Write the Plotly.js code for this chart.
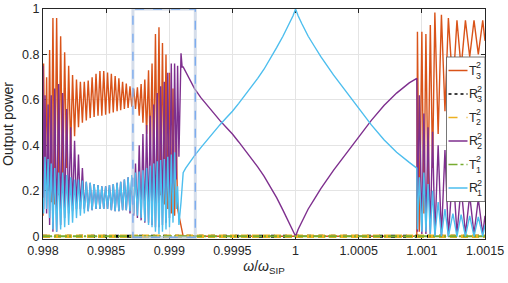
<!DOCTYPE html>
<html><head><meta charset="utf-8">
<script src="https://cdn.plot.ly/plotly-3.0.1.min.js"></script>
<style>html,body{margin:0;padding:0;background:#fff;} #chart{width:508px;height:283px;}</style>
</head><body><div id="chart"></div>
<script>
// ---- data ----
const xLeft = [0.998000,0.9980048,0.9980159,0.9980286,0.9980405,0.9980524,0.9980651,0.9980786,0.9980929,0.9981079,
0.9981238,0.9981397,0.9981556,0.9981714,0.9981873,0.9982032,0.9982190,0.9982341,0.9982500,0.9982651,
0.9982810,0.9982960,0.9983119,0.9983270,0.9983429,0.9983579,0.9983738,0.9983889,0.9984048,0.9984198,
0.9984357,0.9984508,0.9984659,0.9984810,0.9984960,0.9985111,0.9985262,0.9985413,0.9985563,0.9985714,
0.9985865,0.9986008,0.9986151,0.9986302,0.9986444,0.9986595,0.9986738,0.9986889,0.9987032,0.9987183,
0.9987325,0.9987476,0.9987619,0.9987770,0.9987913,0.9988063,0.9988206,0.9988357,0.9988492,0.9988635,
0.9988770,0.9988905,0.9989048,0.9989183,0.9989317,0.9989460,0.9989603,0.9989738,0.9989881,0.9990016,
0.9990159,0.9990294,0.9990421,0.9990556,0.9990659,0.9990762,0.9990929,0.9991016];
const t3Left = [0.09,0.76,0.25,0.70,0.20,0.82,0.15,0.96,0.14,0.96,
0.18,0.88,0.22,0.81,0.30,0.75,0.38,0.71,0.44,0.69,
0.48,0.68,0.50,0.68,0.51,0.685,0.52,0.70,0.525,0.715,
0.53,0.727,0.53,0.727,0.535,0.72,0.54,0.715,0.545,0.705,
0.55,0.695,0.555,0.68,0.56,0.672,0.565,0.66,0.57,0.65,
0.56,0.655,0.53,0.67,0.50,0.69,0.45,0.73,0.38,0.76,
0.32,0.89,0.26,0.92,0.18,0.85,0.14,0.80,0.12,0.72,
0.10,0.65,0.09,0.42,0.12,0.09,0.05,0.03];
const r2Left = [0.75,0.12,0.62,0.10,0.58,0.05,0.62,0.02,0.65,0.02,
0.67,0.05,0.63,0.08,0.56,0.10,0.48,0.11,0.42,0.12,
0.36,0.12,0.30,0.12,0.24,0.11,0.235,0.115,0.23,0.12,
0.225,0.12,0.22,0.12,0.22,0.12,0.225,0.115,0.23,0.11,
0.235,0.11,0.24,0.115,0.25,0.115,0.26,0.10,0.26,0.09,
0.32,0.08,0.40,0.07,0.45,0.06,0.49,0.06,0.53,0.05,
0.58,0.04,0.63,0.04,0.66,0.05,0.68,0.06,0.72,0.08,
0.76,0.10,0.76,0.25,0.75,0.35,0.805,0.745];
const r1Left = [0.17,0.10,0.35,0.12,0.34,0.08,0.32,0.03,0.30,0.02,
0.28,0.03,0.28,0.04,0.27,0.05,0.26,0.06,0.25,0.08,
0.25,0.09,0.245,0.10,0.24,0.11,0.235,0.115,0.23,0.12,
0.225,0.12,0.22,0.12,0.22,0.12,0.225,0.115,0.23,0.11,
0.235,0.11,0.24,0.115,0.25,0.115,0.26,0.11,0.27,0.10,
0.28,0.09,0.285,0.08,0.29,0.065,0.30,0.05,0.31,0.04,
0.32,0.02,0.33,0.01,0.335,0.02,0.34,0.03,0.35,0.04,
0.36,0.06,0.37,0.12,0.22,0.05,0.15,0.25];

const xMid = [0.99911,0.99913,0.99916,0.9992,0.99925,0.9993,0.99935,0.9994,0.99945,0.9995,
0.99955,0.9996,0.99965,0.9997,0.99975,0.9998,0.99985,0.9999,0.99995,0.99998,
1.0,1.00002,1.00005,1.0001,1.00015,1.0002,1.0003,1.0004,1.0005,1.0006,
1.0007,1.0008,1.0009,1.00096];
const t3Mid = [0,0,0,0,0,0,0,0,0,0, 0,0,0,0,0,0,0,0,0,0, 0,0,0,0,0,0,0,0,0,0, 0,0,0,0];
const r2Mid = [0.745,0.725,0.695,0.65,0.61,0.575,0.54,0.51,0.48,0.45,
0.415,0.38,0.345,0.305,0.265,0.22,0.17,0.115,0.06,0.025,
0,0.03,0.065,0.12,0.165,0.21,0.29,0.365,0.44,0.51,
0.575,0.63,0.675,0.695];
const r1Mid = [0.28,0.30,0.325,0.355,0.39,0.425,0.455,0.49,0.52,0.55,
0.585,0.62,0.655,0.695,0.735,0.78,0.83,0.88,0.935,0.97,
1.0,0.97,0.935,0.88,0.835,0.79,0.71,0.635,0.56,0.49,
0.425,0.37,0.325,0.30];

const xRight = [1.000965,1.00098,1.001,1.001016,1.001032,1.001049,1.001067,1.001085,1.001103,1.001129,
1.001155,1.001183,1.00121,1.001246,1.001278,1.001311,1.001345,1.001379,1.001413,1.001447,
1.001482,1.0015];
const t3Right = [0.90,0.02,0.90,0.10,0.89,0.20,0.93,0.30,0.985,0.45,
0.975,0.55,0.96,0.65,0.95,0.74,0.95,0.79,0.95,0.80,
0.95,0.86];
const r2Right = [0.02,0.62,0.01,0.54,0.01,0.48,0.01,0.46,0.0,0.40,
0.0,0.38,0.0,0.30,0.01,0.22,0.01,0.18,0.01,0.165,
0.01,0.09];
const r1Right = [0.03,0.26,0.02,0.28,0.02,0.23,0.01,0.20,0.0,0.15,
0.0,0.12,0.0,0.10,0.0,0.095,0.0,0.09,0.0,0.085,
0.0,0.05];

const xZero = [0.998, 1.0015];
const r3Zero = [0, 0];
const t2Zero = [0, 0];
const t1Zero = [0, 0];

const xTickVals = [0.998, 0.9985, 0.999, 0.9995, 1, 1.0005, 1.001, 1.0015];
const xTickText = ['0.998', '0.9985', '0.999', '0.9995', '1', '1.0005', '1.001', '1.0015'];
const yTickVals = [0, 0.2, 0.4, 0.6, 0.8, 1];
const yTickText = ['0', '0.2', '0.4', '0.6', '0.8', '1'];

const seriesNames = [['T','2','3'], ['R','2','3'], ['T','2','2'], ['R','2','2'], ['T','2','1'], ['R','2','1']];
const zoomBox = [0.998712, 0.999206, -0.005, 1.0];

// ---- styles ----
const C = {T3:'#D95319', R3:'#000000', T2:'#EDB120', R2:'#7E2F8E', T1:'#77AC30', R1:'#4DBEEE'};
const styles = [
  {color:C.T3, width:1.4, dash:'solid'},
  {color:C.R3, width:3, dash:'4px,8px'},
  {color:C.T2, width:3.4, dash:'7px,4px'},
  {color:C.R2, width:1.4, dash:'solid'},
  {color:C.T1, width:1.8, dash:'9px,2px,2px,2px'},
  {color:C.R1, width:1.4, dash:'solid'}
];
const legendDash = ['solid', 'dot', 'dash', 'solid', 'dashdot', 'solid'];

const xAll = xLeft.concat(xMid, xRight);
const traces = [
  {x:xAll, y:t3Left.concat(t3Mid, t3Right), mode:'lines', line:styles[0], hoverinfo:'skip'},
  {x:xZero, y:r3Zero, mode:'lines', line:styles[1], hoverinfo:'skip'},
  {x:xZero, y:t2Zero, mode:'lines', line:styles[2], hoverinfo:'skip'},
  {x:xAll, y:r2Left.concat(r2Mid, r2Right), mode:'lines', line:styles[3], hoverinfo:'skip'},
  {x:xZero, y:t1Zero, mode:'lines', line:styles[4], hoverinfo:'skip'},
  {x:xAll, y:r1Left.concat(r1Mid, r1Right), mode:'lines', line:styles[5], hoverinfo:'skip'}
];

// plot area geometry in pixels
const L = 43, R = 23, T = 9, B = 44, W = 508, H = 283;
const PW = W - L - R, PH = H - T - B;
const px2x = p => (p - L) / PW;
const py2y = p => 1 - (p - T) / PH;

const shapes = [
  {type:'rect', xref:'x', yref:'y', x0:zoomBox[0], x1:zoomBox[1], y0:zoomBox[2], y1:zoomBox[3],
   line:{color:'rgba(185,198,220,0.6)', width:3}, layer:'above'},
  {type:'rect', xref:'x', yref:'y', x0:zoomBox[0], x1:zoomBox[1], y0:zoomBox[2], y1:zoomBox[3],
   line:{color:'rgba(110,165,240,0.85)', width:1.4, dash:'dash'}, layer:'above'},
  {type:'rect', xref:'paper', yref:'paper', x0:px2x(446.5), x1:px2x(485), y0:py2y(201.5), y1:py2y(57),
   fillcolor:'#ffffff', line:{color:'#555', width:0.8}, layer:'above'}
];
const annotations = [];
const rowY = [70.5, 94, 117.5, 141, 164.5, 188];
rowY.forEach((yc, i) => {
  shapes.push({type:'line', xref:'paper', yref:'paper', x0:px2x(448.5), x1:px2x(467.5), y0:py2y(yc), y1:py2y(yc),
    line:{color:styles[i].color, width:1.5, dash:legendDash[i]}, layer:'above'});
  const n = seriesNames[i];
  const lw = n[0] === 'T' ? 7.0 : 8.2;
  annotations.push({xref:'paper', yref:'paper', x:px2x(467.8), y:py2y(yc), text:n[0], showarrow:false,
    xanchor:'left', yanchor:'middle', font:{size:12.5, color:'#262626'}, borderpad:0});
  annotations.push({xref:'paper', yref:'paper', x:px2x(467.8 + lw), y:py2y(yc - 5.5), text:n[1], showarrow:false,
    xanchor:'left', yanchor:'middle', font:{size:9, color:'#262626'}, borderpad:0});
  annotations.push({xref:'paper', yref:'paper', x:px2x(467.8 + lw), y:py2y(yc + 5), text:n[2], showarrow:false,
    xanchor:'left', yanchor:'middle', font:{size:9, color:'#262626'}, borderpad:0});
});

const axisCommon = {
  ticks:'inside', ticklen:4, tickcolor:'#262626', showline:true, linecolor:'#262626', linewidth:1,
  mirror:'ticks', showgrid:true, gridcolor:'#e4e4e4', gridwidth:1, zeroline:false, layer:'below traces',
  tickfont:{size:12.5, color:'#262626'}, tickmode:'array', automargin:false
};
const layout = {
  width:W, height:H, margin:{l:L, r:R, t:T, b:B, pad:0},
  paper_bgcolor:'#ffffff', plot_bgcolor:'#ffffff', showlegend:false,
  font:{family:'Liberation Sans, Arial, sans-serif', color:'#262626'},
  xaxis:Object.assign({}, axisCommon, {range:[0.998, 1.0015], tickvals:xTickVals, ticktext:xTickText,
    title:{text:'<i>ω</i>/<i>ω</i><sub>SIP</sub>', font:{size:14, color:'#262626'}, standoff:4}}),
  yaxis:Object.assign({}, axisCommon, {range:[-0.012, 1], tickvals:yTickVals, ticktext:yTickText,
    title:{text:'Output power', font:{size:14, color:'#262626'}, standoff:6}}),
  shapes:shapes, annotations:annotations
};
Plotly.newPlot('chart', traces, layout, {displayModeBar:false, staticPlot:true});
</script></body></html>
